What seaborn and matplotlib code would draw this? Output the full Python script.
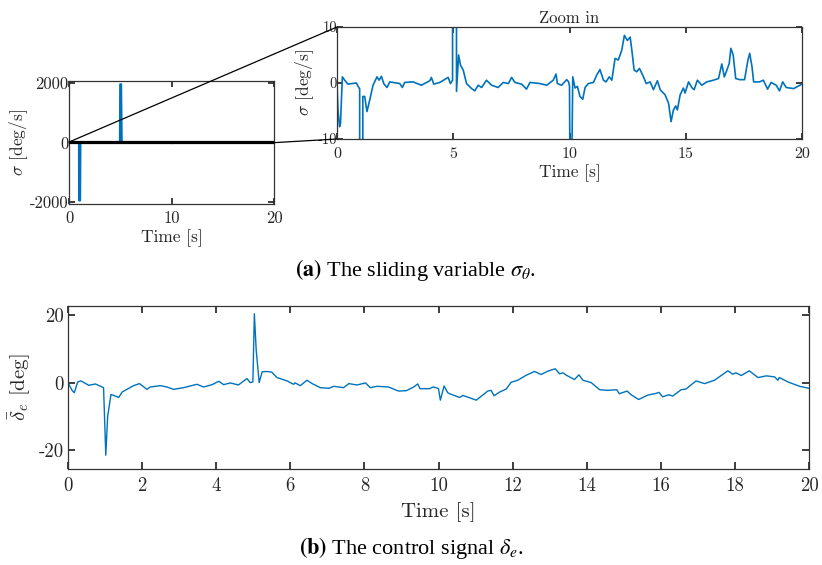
import numpy as np
import pandas as pd
import matplotlib
matplotlib.use("Agg")
import matplotlib.pyplot as plt
from matplotlib.patches import ConnectionPatch, Rectangle
import seaborn as sns

# ---------------- data ----------------
sigma_t = [0.0, 0.04, 0.11, 0.15, 0.23, 0.33, 0.47, 0.83, 0.95, 0.975, 0.99, 1.08, 1.11, 1.15, 1.19,
           1.29, 1.41, 1.55, 1.72, 1.81, 1.91, 2.01, 2.15, 2.27, 2.7, 2.81, 2.91, 3.27, 3.63, 3.99,
           4.06, 4.16, 4.42, 4.78, 4.88, 4.97, 5.0, 5.08, 5.14, 5.23, 5.31, 5.43, 5.57, 5.79, 5.93,
           6.07, 6.22, 6.43, 6.65, 6.93, 7.15, 7.37, 7.51, 7.65, 7.94, 8.15, 8.3, 8.73, 9.02, 9.3,
           9.42, 9.48, 9.66, 9.88, 9.96, 10.0, 10.03, 10.07, 10.14, 10.24, 10.34, 10.45, 10.57, 10.67,
           10.81, 11.03, 11.17, 11.31, 11.46, 11.57, 11.71, 11.82, 11.96, 12.1, 12.25, 12.36, 12.49,
           12.61, 12.68, 12.78, 12.89, 13.01, 13.15, 13.3, 13.47, 13.61, 13.78, 13.9, 14.11, 14.26,
           14.37, 14.47, 14.57, 14.64, 14.76, 14.9, 14.97, 15.12, 15.26, 15.36, 15.5, 15.69, 15.9,
           16.19, 16.41, 16.55, 16.66, 16.76, 16.87, 16.94, 17.04, 17.15, 17.32, 17.53, 17.67, 17.75,
           17.85, 17.92, 18.17, 18.34, 18.52, 18.67, 18.89, 19.03, 19.17, 19.32, 19.64, 20.0]
sigma_v = [0.0, -4.8, -7.8, -7.2, 1.1, 0.5, -0.2, 0.0, -0.9, -1.0, -1950.0, -1950.0, -2.4, -2.4, -2.4,
           -5.1, -3.0, -0.4, 1.1, 0.5, 1.2, -0.1, -0.8, 0.2, -0.1, -0.8, 0.1, 0.2, -0.4, 0.4,
           1.0, -0.2, 0.1, 1.0, -0.1, 0.5, 1950.0, 1950.0, -1.5, 5.0, 3.2, 2.3, -0.1, -1.0, -1.4,
           -0.4, -0.8, 0.5, -0.4, -0.8, 0.1, -0.1, 1.0, 0.1, -0.2, -1.1, 0.1, -0.1, -0.4, 0.5,
           1.6, -0.1, -0.4, 0.6, 0.2, -0.5, -25.0, -25.0, 1.1, -0.9, -0.6, -2.4, -2.9, -0.8,
           -0.1, 0.1, 1.4, 2.4, 0.5, 0.2, 1.1, 0.5, 4.4, 4.1, 5.9, 8.5, 7.6, 8.2, 5.9, 2.3, 2.0,
           2.6, 1.4, -0.1, 0.2, -1.2, 0.4, -1.2, -2.1, -3.6, -6.9, -4.8, -4.1, -4.8, -2.1, -0.9,
           -1.8, 0.2, -0.8, -1.2, 0.5, -0.4, 0.2, 0.5, 0.8, 3.4, 1.1, 2.2, 3.5, 6.2, 5.0, 0.8, 0.6,
           0.6, 4.0, 5.3, 2.9, 0.2, 0.2, 0.5, -1.1, 0.1, -0.4, -1.4, 0.2, -0.8, -1.0, -0.2]

delta_t = [0.0, 0.11, 0.17, 0.26, 0.35, 0.56, 0.74, 0.96, 1.02, 1.07, 1.16, 1.28, 1.37, 1.46, 1.59,
           1.77, 1.93, 2.13, 2.22, 2.49, 2.67, 2.85, 3.12, 3.48, 3.66, 3.89, 4.07, 4.2, 4.38, 4.6,
           4.83, 4.92, 4.99, 5.03, 5.08, 5.16, 5.24, 5.37, 5.5, 5.64, 5.91, 6.09, 6.13, 6.27, 6.45,
           6.59, 6.81, 7.04, 7.17, 7.44, 7.58, 7.8, 8.03, 8.16, 8.34, 8.65, 8.92, 9.13, 9.33, 9.44,
           9.5, 9.76, 9.85, 9.93, 10.0, 10.05, 10.15, 10.25, 10.3, 10.57, 10.66, 11.02, 11.33,
           11.42, 11.5, 11.65, 11.83, 11.96, 12.14, 12.37, 12.59, 12.77, 12.95, 13.15, 13.27, 13.36,
           13.45, 13.67, 13.79, 13.9, 14.12, 14.35, 14.57, 14.81, 14.88, 15.09, 15.2, 15.4, 15.65,
           15.87, 15.95, 16.05, 16.22, 16.32, 16.55, 16.68, 16.95, 17.18, 17.45, 17.81, 17.94, 18.03,
           18.17, 18.39, 18.62, 18.85, 19.07, 19.16, 19.2, 19.43, 19.75, 20.0]
delta_v = [0.0, -2.3, -3.0, 0.2, 0.5, -0.8, -0.4, -1.5, -21.5, -10.0, -3.5, -4.0, -4.4, -2.8, -2.0,
           -0.9, -0.3, -2.0, -1.3, -0.9, -1.3, -2.0, -1.5, -0.5, -1.3, -0.6, 0.4, -0.6, -0.1, -0.7,
           1.2, 0.0, 0.2, 20.4, 9.6, 0.0, 3.2, 3.3, 3.1, 1.5, 0.5, -0.5, -0.1, -0.9, 0.7,
           -0.3, -1.5, -1.7, -1.1, -1.5, -0.3, -0.7, -0.1, -1.5, -1.1, -1.3, -2.5, -2.4, -1.3, -0.4,
           -1.8, -1.8, -1.3, -1.5, -1.8, -5.2, -1.0, -3.0, -3.3, -4.4, -3.8, -5.2, -2.5,
           -2.3, -3.9, -2.8, -1.9, 0.1, 0.7, 2.2, 3.3, 2.4, 3.4, 4.1, 2.6, 2.9,
           2.2, 0.9, 2.3, 0.7, 0.0, -2.1, -2.3, -2.1, -3.3, -2.5, -3.6, -5.0, -3.7,
           -3.2, -2.9, -4.2, -3.6, -4.0, -2.1, -1.9, 0.5, -0.3, 0.7, 3.5, 2.5, 2.9,
           2.1, 3.5, 1.5, 2.0, 1.7, 0.7, 1.5, 0.2, -1.1, -1.7]

small_xticks = [0, 10, 20]
small_yticks = [-2000, 0, 2000]
zoom_xticks = [0, 5, 10, 15, 20]
zoom_yticks = [-10, 0, 10]
bottom_xticks = [0, 2, 4, 6, 8, 10, 12, 14, 16, 18, 20]
bottom_yticks = [-20, 0, 20]

# ---------------- style ----------------
sns.set_theme(style="ticks")
plt.rcParams["font.family"] = "serif"
plt.rcParams["font.serif"] = ["cmr10", "DejaVu Serif"]
plt.rcParams["mathtext.fontset"] = "cm"
plt.rcParams["axes.formatter.use_mathtext"] = True
plt.rcParams["axes.unicode_minus"] = False
plt.rcParams["axes.edgecolor"] = "#333333"
plt.rcParams["axes.linewidth"] = 0.9
plt.rcParams["xtick.direction"] = "in"
plt.rcParams["ytick.direction"] = "in"
plt.rcParams["xtick.top"] = True
plt.rcParams["ytick.right"] = True
plt.rcParams["xtick.major.size"] = 4
plt.rcParams["ytick.major.size"] = 4
plt.rcParams["xtick.color"] = "#262626"
plt.rcParams["ytick.color"] = "#262626"
plt.rcParams["text.color"] = "#262626"
plt.rcParams["axes.labelcolor"] = "#262626"

BLUE = "#0072BD"
W, H = 822, 565
fig = plt.figure(figsize=(W / 100, H / 100), dpi=100)

def ax_px(l, t, r, b):
    return fig.add_axes([l / W, 1 - b / H, (r - l) / W, (b - t) / H])

df_s = pd.DataFrame({"t": sigma_t, "v": sigma_v})
df_d = pd.DataFrame({"t": delta_t, "v": delta_v})

# small overview
ax1 = ax_px(69, 81, 274, 204)
sns.lineplot(data=df_s, x="t", y="v", ax=ax1, color=BLUE, lw=1.6, estimator=None, sort=False)
ax1.set_xlim(0, 20)
ax1.set_ylim(-2070, 2060)
ax1.set_xticks(small_xticks)
ax1.set_yticks(small_yticks)
ax1.set_xticklabels([str(v) for v in small_xticks])
ax1.set_yticklabels([str(v) for v in small_yticks])
ax1.tick_params(axis="x", labelsize=12, pad=4.5)
ax1.tick_params(axis="y", labelsize=12, pad=0.5)
ax1.set_xlabel("Time [s]", fontsize=12.5, labelpad=3)
ax1.set_ylabel(r"$\sigma$ [deg/s]", fontsize=12.5, labelpad=0)
ax1.add_patch(Rectangle((0, -10), 20, 20, fill=False, ec="black", lw=1.6, zorder=5))

# zoom in
ax2 = ax_px(337, 27, 802, 139)
sns.lineplot(data=df_s, x="t", y="v", ax=ax2, color=BLUE, lw=1.2, estimator=None, sort=False)
ax2.set_xlim(0, 20)
ax2.set_ylim(-10, 10)
ax2.set_xticks(zoom_xticks)
ax2.set_yticks(zoom_yticks)
ax2.set_xticklabels([str(v) for v in zoom_xticks])
ax2.set_yticklabels([str(v) for v in zoom_yticks])
ax2.tick_params(axis="x", labelsize=11.5, pad=6)
ax2.tick_params(axis="y", labelsize=10.5, pad=0)
ax2.set_xlabel("Time [s]", fontsize=12.5, labelpad=2)
ax2.set_ylabel(r"$\sigma$ [deg/s]", fontsize=12.5, labelpad=1)
ax2.set_title("Zoom in", fontsize=12, pad=3)

for (xa, ya, xb, yb) in [(0, 10, 0, 10), (20, -10, 0, -10)]:
    con = ConnectionPatch(xyA=(xa, ya), coordsA=ax1.transData,
                          xyB=(xb, yb), coordsB=ax2.transData,
                          color="black", lw=0.9, zorder=10)
    fig.add_artist(con)

# bottom
ax3 = ax_px(68, 306, 809, 469)
sns.lineplot(data=df_d, x="t", y="v", ax=ax3, color=BLUE, lw=1.0, estimator=None, sort=False)
ax3.set_xlim(0, 20)
ax3.set_ylim(-25.6, 22.7)
ax3.set_xticks(bottom_xticks)
ax3.set_yticks(bottom_yticks)
ax3.set_xticklabels([str(v) for v in bottom_xticks])
ax3.set_yticklabels([str(v) for v in bottom_yticks])
ax3.tick_params(axis="x", labelsize=13.5, pad=6, length=5)
ax3.tick_params(axis="y", labelsize=13.5, pad=3, length=5)
ax3.set_xlabel("Time [s]", fontsize=15, labelpad=5)
ax3.set_ylabel(r"$\bar{\delta}_e$ [deg]", fontsize=15, labelpad=4)

# captions
fig.text(415 / W, 1 - 270 / H, r"$\mathbf{(a)}$ The sliding variable $\sigma_\theta$.",
         ha="center", va="center", fontsize=16, family="Liberation Serif", math_fontfamily="stix",
         color="black")
fig.text(411 / W, 1 - 548 / H, r"$\mathbf{(b)}$ The control signal $\delta_e$.",
         ha="center", va="center", fontsize=16, family="Liberation Serif", math_fontfamily="stix",
         color="black")

fig.savefig("out.png", dpi=100)
